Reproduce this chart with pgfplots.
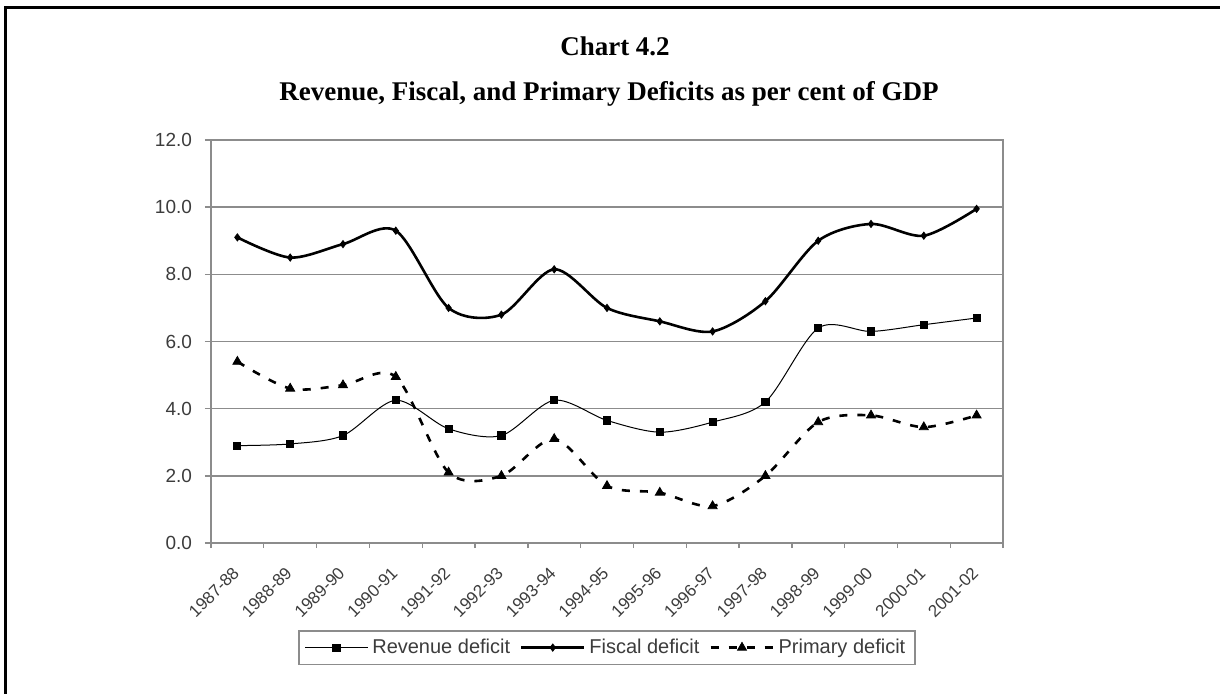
\documentclass[border=0pt]{standalone}
\usepackage{fontspec}
\setmainfont{Liberation Serif}
\newfontfamily\arial{Liberation Sans}
\usepackage{pgfplots}
\pgfplotsset{compat=1.18}
\definecolor{gridgray}{RGB}{140,140,140}
\definecolor{txtgray}{RGB}{60,60,60}
\begin{document}
\begin{tikzpicture}
\useasboundingbox (-105.5pt,-75pt) rectangle (504.5pt,271.5pt);
\draw[line width=1.5pt] (510pt,268pt) -- (-102.5pt,268pt) -- (-102.5pt,-80pt);
\node[anchor=base, font=\bfseries\fontsize{13.5}{15}\selectfont] at (202pt,244pt) {Chart 4.2};
\node[anchor=base, font=\bfseries\fontsize{13.5}{15}\selectfont] at (199pt,221.5pt) {Revenue, Fiscal, and Primary Deficits as per cent of GDP};
\begin{axis}[
  at={(0,0)}, anchor=south west,
  scale only axis, width=396pt, height=201.5pt,
  xmin=-0.5, xmax=14.5, ymin=0, ymax=12,
  xtick={0,...,14},
  xticklabels={1987-88,1988-89,1989-90,1990-91,1991-92,1992-93,1993-94,1994-95,1995-96,1996-97,1997-98,1998-99,1999-00,2000-01,2001-02},
  minor xtick={-0.5,0.5,...,14.5},
  ytick={0,2,4,6,8,10,12},
  yticklabels={0.0,2.0,4.0,6.0,8.0,10.0,12.0},
  ymajorgrids,
  major grid style={gridgray, line width=0.7pt},
  axis line style={gridgray, line width=0.9pt},
  tick align=outside,
  tick pos=left,
  major tick length=3pt, minor tick length=2.5pt,
  tick style={gridgray, line width=0.7pt},
  major x tick style={draw=none},
  /pgf/number format/assume math mode=true,
  ticklabel style={font=\arial\fontsize{9.5}{10}\selectfont, text=txtgray},
  yticklabel style={xshift=-3pt},
  xticklabel style={font=\arial\fontsize{8.5}{10}\selectfont, rotate=45, anchor=east, xshift=-4.5pt, yshift=-7pt},
  legend columns=3,
  legend style={at={(0.5,-0.216)}, anchor=north, draw=gridgray, line width=0.8pt,
    font=\arial\fontsize{10}{12}\selectfont, text=txtgray,
    /tikz/every even column/.append style={column sep=3pt}},
  legend image code/.code={\draw[mark repeat=2, mark phase=2, #1] plot coordinates {(0cm,0cm) (0.55cm,0cm) (1.1cm,0cm)};},
]
\addplot[black, line width=0.5pt, smooth, mark=square*, mark size=1.8pt, mark options={solid}] coordinates {
(0,2.9) (1,2.95) (2,3.2) (3,4.25) (4,3.4) (5,3.2) (6,4.25) (7,3.65) (8,3.3) (9,3.6) (10,4.2) (11,6.4) (12,6.3) (13,6.5) (14,6.7)};
\addlegendentry{Revenue deficit}
\addplot[black, line width=1.3pt, smooth, mark=diamond*, mark size=1.8pt, mark options={solid, line width=0.4pt}] coordinates {
(0,9.1) (1,8.5) (2,8.9) (3,9.3) (4,7.0) (5,6.8) (6,8.15) (7,7.0) (8,6.6) (9,6.3) (10,7.2) (11,9.0) (12,9.5) (13,9.15) (14,9.95)};
\addlegendentry{Fiscal deficit}
\addplot[black, line width=1.3pt, smooth, dash pattern=on 4pt off 5pt, mark=triangle*, mark size=2.6pt, mark options={solid, line width=0.4pt}] coordinates {
(0,5.4) (1,4.6) (2,4.7) (3,4.95) (4,2.1) (5,2.0) (6,3.1) (7,1.7) (8,1.5) (9,1.1) (10,2.0) (11,3.6) (12,3.8) (13,3.45) (14,3.8)};
\addlegendentry{Primary deficit}
\end{axis}
\end{tikzpicture}
\end{document}
